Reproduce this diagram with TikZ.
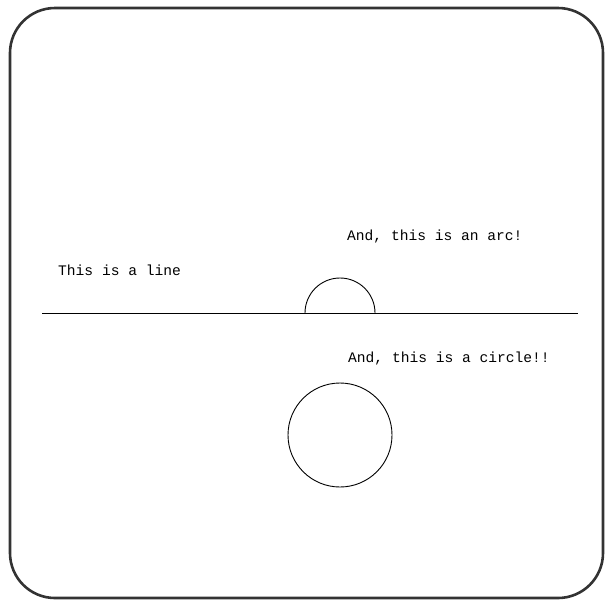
\documentclass[tikz,border=0pt]{standalone}
\usepackage{fontspec}
\newfontfamily\plotfont{Liberation Mono}
\begin{document}
\begin{tikzpicture}[
    x=1pt, y=-1pt,
    frame/.style={draw=black!80, line width=2.6pt, rounded corners=45pt},
    plotline/.style={draw, line width=0.9pt},
    label/.style={font=\plotfont\fontsize{14.6}{16}\selectfont, anchor=base west, inner sep=0pt}
]
    % Page area
    \useasboundingbox (0,0) rectangle (607,603);
    \draw[frame] (10,8) rectangle (603,598);

    % The line and the arc sitting on it
    \coordinate (lineL) at (42,313);
    \coordinate (lineR) at (578,313);
    \coordinate (arcL) at (305,313);
    \draw[plotline] (lineL) -- (lineR);
    \draw[plotline] (arcL) arc[start angle=180, end angle=360, radius=35];

    % The circle
    \coordinate (circC) at (340,435);
    \draw[plotline] (circC) circle[radius=52];

    % Labels
    \node[label] (lineText) at (58,275) {This is a line};
    \node[label] (arcText) at (347,240) {And, this is an arc!};
    \node[label] (circText) at (348,362) {And, this is a circle!!};
\end{tikzpicture}
\end{document}
